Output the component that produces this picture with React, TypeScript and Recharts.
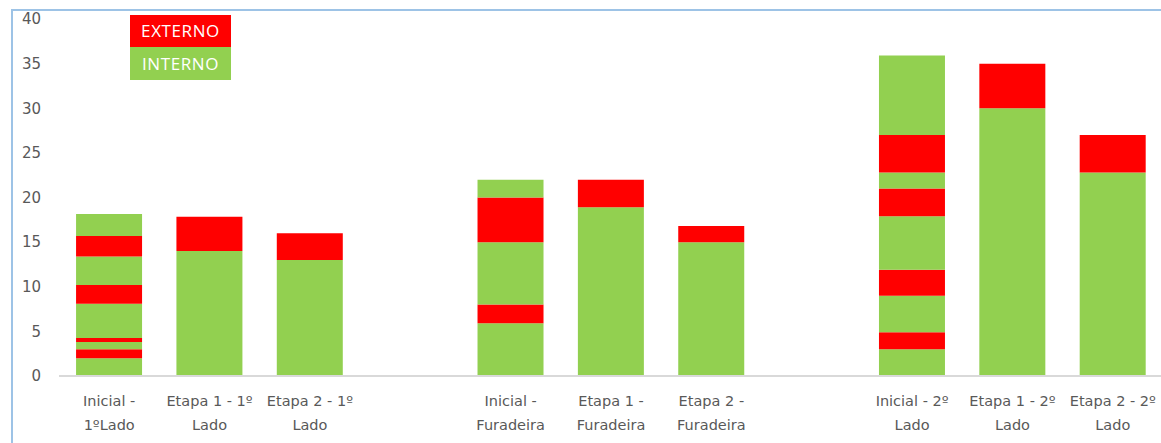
import { Bar, BarChart, XAxis, YAxis } from "recharts";

const GREEN = "#92d050";
const RED = "#ff0000";

const categories = [
  "Inicial -\n1ºLado",
  "Etapa 1 - 1º\nLado",
  "Etapa 2 - 1º\nLado",
  "",
  "Inicial -\nFuradeira",
  "Etapa 1 -\nFuradeira",
  "Etapa 2 -\nFuradeira",
  " ",
  "Inicial - 2º\nLado",
  "Etapa 1 - 2º\nLado",
  "Etapa 2 - 2º\nLado",
];

// stacked segments bottom -> top, alternating INTERNO (green) / EXTERNO (red)
const inicial1Lado = [2, 1, 0.8, 0.45, 3.85, 2.1, 3.2, 2.3, 2.45];
const etapa1Lado1 = [14, 3.85];
const etapa2Lado1 = [13, 3];
const inicialFuradeira = [5.9, 2.1, 7, 5, 2];
const etapa1Furadeira = [18.9, 3.1];
const etapa2Furadeira = [15, 1.8];
const inicial2Lado = [3, 1.9, 4.1, 2.9, 6, 3.1, 1.8, 4.2, 8.9];
const etapa1Lado2 = [30, 5];
const etapa2Lado2 = [22.8, 4.2];

const segments = [
  inicial1Lado,
  etapa1Lado1,
  etapa2Lado1,
  [],
  inicialFuradeira,
  etapa1Furadeira,
  etapa2Furadeira,
  [],
  inicial2Lado,
  etapa1Lado2,
  etapa2Lado2,
];

const yTicks = [0, 5, 10, 15, 20, 25, 30, 35, 40];
const layers = [0, 1, 2, 3, 4, 5, 6, 7, 8];

const data = categories.map((name, i) => {
  const row: Record<string, string | number | null> = { name };
  layers.forEach((k) => {
    row[`s${k}`] = segments[i][k] ?? null;
  });
  return row;
});

function CategoryTick({ x, y, payload }: any) {
  const lines = String(payload.value).trim().split("\n");
  return (
    <text
      x={x}
      y={y}
      textAnchor="middle"
      fill="#595959"
      fontSize={14.5}
      fontFamily="DejaVu Sans"
    >
      {lines.map((l, i) => (
        <tspan key={i} x={x} dy={i === 0 ? 22 : 24}>
          {l}
        </tspan>
      ))}
    </text>
  );
}

export default function App() {
  return (
    <div
      style={{
        position: "fixed",
        left: 0,
        top: 0,
        width: 1161,
        height: 443,
        overflow: "hidden",
        background: "#fff",
      }}
    >
      <div
        style={{
          position: "absolute",
          left: 11,
          top: 9,
          width: 1200,
          height: 500,
          borderLeft: "2px solid #9dc3e6",
          borderTop: "2px solid #9dc3e6",
        }}
      />
      <div style={{ position: "absolute", left: 0, top: 0 }}>
        <BarChart
          width={1163}
          height={443}
          data={data}
          margin={{ top: 19, right: 0, left: 0, bottom: 7 }}
          barCategoryGap="17%"
        >
          <XAxis
            dataKey="name"
            tick={<CategoryTick />}
            tickLine={false}
            axisLine={{ stroke: "#d9d9d9", strokeWidth: 2 }}
            interval={0}
            height={60}
          />
          <YAxis
            domain={[0, 40]}
            ticks={yTicks}
            width={59}
            axisLine={false}
            tickLine={false}
            tickMargin={12}
            tick={{ fontSize: 15, fill: "#595959", fontFamily: "DejaVu Sans" }}
            interval={0}
          />
          {layers.map((k) => (
            <Bar
              key={k}
              dataKey={`s${k}`}
              stackId="a"
              fill={k % 2 === 0 ? GREEN : RED}
              isAnimationActive={false}
            />
          ))}
        </BarChart>
      </div>
      <div
        style={{
          position: "absolute",
          left: 130,
          top: 15,
          width: 101,
          fontFamily: "Open Sans",
          fontSize: 17,
          letterSpacing: 0.6,
          color: "#fff",
          textAlign: "center",
        }}
      >
        <div style={{ background: RED, height: 32, lineHeight: "32px" }}>EXTERNO</div>
        <div style={{ background: GREEN, height: 33, lineHeight: "33px" }}>INTERNO</div>
      </div>
    </div>
  );
}
